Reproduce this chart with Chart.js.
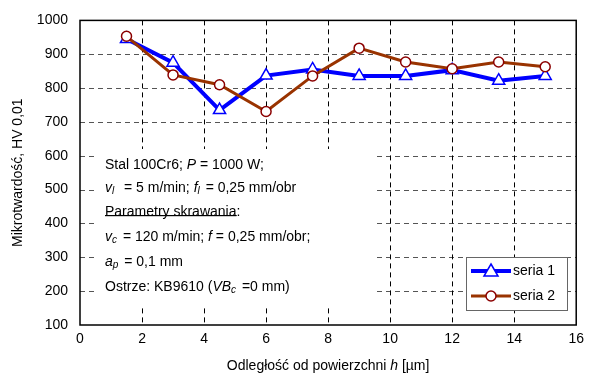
<!DOCTYPE html>
<html>
<head>
<meta charset="utf-8">
<script src="https://cdn.jsdelivr.net/npm/chart.js@4/dist/chart.umd.min.js"></script>
<style>
  body { margin: 0; background: #fff; }
  #wrap { width: 590px; height: 374px; }
</style>
</head>
<body>
<div id="wrap"><canvas id="wykres" width="590" height="374"></canvas></div>
<script>
// Data
var depth = [1.5, 3, 4.5, 6, 7.5, 9, 10.5, 12, 13.5, 15];
var seria1 = [945, 875, 735, 837, 855, 836, 836, 853, 822, 836];
var seria2 = [953, 839, 810, 731, 836, 918, 877, 857, 877, 863];
var seriesNames = ['seria 1', 'seria 2'];
var xTitle = ['Odległość od powierzchni ', 'h', ' [µm]'];
var yTitle = 'Mikrotwardość, HV 0,01';

const FONT = 'Arial, "Liberation Sans", sans-serif';
var colors = ['#0000FF', '#993300'];

function toPoints(ys)
{
	var pts = [];
	for (var i = 0; i < depth.length; i++) pts.push({x: depth[i], y: ys[i]});
	return pts;
}

// text runs: n = normal, i = italic, s = italic subscript, u = underline
var notes = [
	[['Stal 100Cr6; ', 'n'], ['P', 'i'], [' = 1000 W;', 'n']],
	[['v', 'i'], ['l', 's'], ['  = 5 m/min; ', 'n'], ['f', 'i'], ['l', 's'], [' = 0,25 mm/obr', 'n']],
	[['Parametry skrawania', 'u'], [':', 'n']],
	[['v', 'i'], ['c', 's'], [' = 120 m/min; ', 'n'], ['f', 'i'], [' = 0,25 mm/obr;', 'n']],
	[['a', 'i'], ['p', 's'], [' = 0,1 mm', 'n']],
	[['Ostrze: KB9610 (', 'n'], ['VB', 'i'], ['c', 's'], [' =0 mm)', 'n']]
];

function drawRuns(ctx, runs, x, y)
{
	for (var k = 0; k < runs.length; k++)
	{
		var t = runs[k][0], st = runs[k][1];
		var dy = 0;
		if (st == 'i') ctx.font = 'italic 14px ' + FONT;
		else if (st == 's') { ctx.font = 'italic 10px ' + FONT; dy = 3; }
		else ctx.font = '14px ' + FONT;
		ctx.fillText(t, x, y + dy);
		var w = ctx.measureText(t).width;
		if (st == 'u')
		{
			ctx.fillRect(x, y + 3, w, 1.2);
		}
		x += w + (st == 's' ? 2 : 0);
	}
}

var extras = {
	id: 'extras',
	beforeDatasetsDraw: function(chart)
	{
		var ctx = chart.ctx, a = chart.chartArea;
		var sx = chart.scales.x, sy = chart.scales.y;
		ctx.save();
		ctx.lineWidth = 1;
		ctx.setLineDash([5, 4]);
		// horizontal grid (grey)
		ctx.strokeStyle = '#555';
		ctx.beginPath();
		for (var w = 200; w < 1000; w += 100)
		{
			var py = Math.round(sy.getPixelForValue(w)) + 0.5;
			ctx.moveTo(a.left, py); ctx.lineTo(a.right, py);
		}
		ctx.stroke();
		// vertical grid (black)
		ctx.strokeStyle = '#000';
		ctx.beginPath();
		for (var v = 2; v < 16; v += 2)
		{
			var px = Math.round(sx.getPixelForValue(v)) + 0.5;
			ctx.moveTo(px, a.top); ctx.lineTo(px, a.bottom);
		}
		ctx.stroke();
		ctx.setLineDash([]);
		// white box under notes
		ctx.fillStyle = '#fff';
		ctx.fillRect(98, 149, 278, 159);
		ctx.restore();
	},
	afterDraw: function(chart)
	{
		var ctx = chart.ctx, a = chart.chartArea;
		ctx.save();
		// frame
		ctx.strokeStyle = '#000';
		ctx.lineWidth = 1.5;
		ctx.strokeRect(a.left, a.top, a.right - a.left, a.bottom - a.top);

		// notes
		ctx.fillStyle = '#000';
		ctx.textBaseline = 'middle';
		ctx.textAlign = 'left';
		var ys = [165, 188, 212, 237, 262, 287];
		for (var i = 0; i < notes.length; i++) drawRuns(ctx, notes[i], 105, ys[i]);

		// legend
		var lx = 466, ly = 257, lw = 101, lh = 53;
		ctx.fillStyle = '#fff';
		ctx.fillRect(lx, ly, lw, lh);
		ctx.strokeStyle = '#666';
		ctx.lineWidth = 1;
		ctx.strokeRect(lx + 0.5, ly + 0.5, lw, lh);
		for (var s = 0; s < 2; s++)
		{
			var yy = ly + 14 + s * 25;
			var ds = chart.data.datasets[s];
			ctx.strokeStyle = ds.borderColor;
			ctx.lineWidth = ds.borderWidth;
			ctx.beginPath(); ctx.moveTo(lx + 5, yy); ctx.lineTo(lx + 45, yy); ctx.stroke();
			ctx.fillStyle = '#fff';
			ctx.strokeStyle = ds.pointBorderColor;
			ctx.lineWidth = 1.5;
			ctx.beginPath();
			if (s == 0)
			{
				ctx.moveTo(lx + 25, yy - 7); ctx.lineTo(lx + 32, yy + 5); ctx.lineTo(lx + 18, yy + 5); ctx.closePath();
			}
			else
			{
				ctx.arc(lx + 25, yy, 5, 0, Math.PI * 2);
			}
			ctx.fill(); ctx.stroke();
			ctx.fillStyle = '#000';
			ctx.font = '14px ' + FONT;
			ctx.fillText(seriesNames[s], lx + 47, yy);
		}

		// axis titles
		ctx.font = '14px ' + FONT;
		var w0 = ctx.measureText(xTitle[0]).width;
		ctx.font = 'italic 14px ' + FONT;
		var w1 = ctx.measureText(xTitle[1]).width;
		ctx.font = '14px ' + FONT;
		var w2 = ctx.measureText(xTitle[2]).width;
		var x0 = (a.left + a.right) / 2 - (w0 + w1 + w2) / 2;
		ctx.fillText(xTitle[0], x0, 366);
		ctx.font = 'italic 14px ' + FONT;
		ctx.fillText(xTitle[1], x0 + w0, 366);
		ctx.font = '14px ' + FONT;
		ctx.fillText(xTitle[2], x0 + w0 + w1, 366);

		ctx.translate(18, (a.top + a.bottom) / 2);
		ctx.rotate(-Math.PI / 2);
		ctx.textAlign = 'center';
		ctx.fillText(yTitle, 0, 0);
		ctx.restore();
	}
};

var ctx2 = document.getElementById('wykres');
var wykres = new Chart(ctx2,
{
	type: 'line',
	data:
	{
		datasets: [
			{
				label: seriesNames[0],
				data: toPoints(seria1),
				order: 2,
				borderColor: colors[0],
				borderWidth: 4,
				pointStyle: 'triangle',
				pointRadius: 7,
				pointBackgroundColor: '#fff',
				pointBorderColor: '#0000FF',
				pointBorderWidth: 1.5,
				tension: 0
			},
			{
				label: seriesNames[1],
				data: toPoints(seria2),
				order: 1,
				borderColor: colors[1],
				borderWidth: 3,
				pointStyle: 'circle',
				pointRadius: 5,
				pointBackgroundColor: '#fff',
				pointBorderColor: '#8B0000',
				pointBorderWidth: 1.5,
				tension: 0
			}
		]
	},
	options:
	{
		responsive: false,
		animation: false,
		layout: { padding: { top: 17, right: 10, left: 0, bottom: 0 } },
		plugins: { legend: { display: false }, tooltip: { enabled: false } },
		scales:
		{
			x:
			{
				type: 'linear', min: 0, max: 16,
				ticks: { stepSize: 2, color: '#000', font: { size: 14, family: FONT }, padding: 6 },
				grid: { display: false, drawTicks: false },
				border: { display: false },
				afterFit: function(scale) { scale.height = 49; }
			},
			y:
			{
				min: 100, max: 1000,
				ticks: { stepSize: 100, color: '#000', font: { size: 14, family: FONT }, padding: 12,
					callback: function(v) { return String(v); } },
				grid: { display: false, drawTicks: false },
				border: { display: false },
				afterFit: function(scale) { scale.width = 80; }
			}
		}
	},
	plugins: [extras]
});
</script>
</body>
</html>
